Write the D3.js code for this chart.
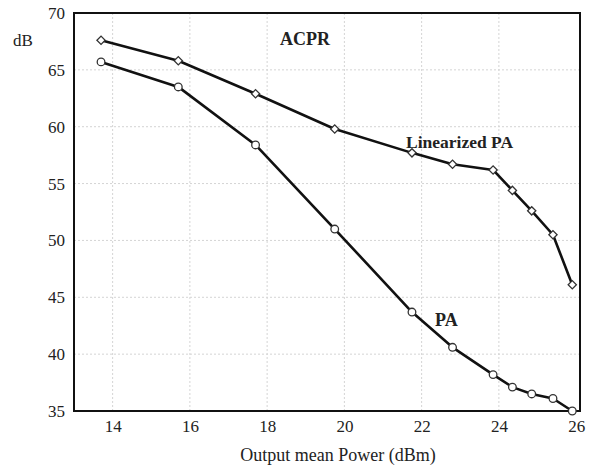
<!DOCTYPE html>
<html>
<head>
<meta charset="utf-8">
<script src="https://cdn.jsdelivr.net/npm/d3@7/dist/d3.min.js"></script>
<style>
  body { margin: 0; background: #fff; }
  svg { display: block; }
  text { font-family: "Liberation Serif", "DejaVu Serif", serif; fill: #222; }
</style>
</head>
<body>
<svg id="chart" width="589" height="465"></svg>
<script>
// Output mean power (dBm) at each measurement
const power = [13.7, 15.7, 17.7, 19.75, 21.75, 22.8, 23.85, 24.35, 24.85, 25.4, 25.9];
// ACPR (dB) with and without linearization
const acprLinearized = [67.6, 65.8, 62.9, 59.8, 57.7, 56.7, 56.2, 54.4, 52.6, 50.5, 46.1];
const acprPA = [65.7, 63.5, 58.4, 51.0, 43.7, 40.6, 38.2, 37.1, 36.5, 36.1, 35.0];
const xTicks = [14, 16, 18, 20, 22, 24, 26];
const yTicks = [35, 40, 45, 50, 55, 60, 65, 70];

const svg = d3.select("#chart");
const m = { left: 74, top: 13, right: 580, bottom: 411 };

const x = d3.scaleLinear().domain([13, 26.1]).range([m.left, m.right]);
const y = d3.scaleLinear().domain([35, 70]).range([m.bottom, m.top]);

// grid
const grid = svg.append("g").attr("stroke", "#d4d4d4").attr("stroke-width", 1)
  .attr("stroke-dasharray", "2,2");
grid.selectAll("line.v").data(xTicks.filter(d => d < 26)).join("line")
  .attr("x1", d => x(d)).attr("x2", d => x(d))
  .attr("y1", m.top).attr("y2", m.bottom);
grid.selectAll("line.h").data(yTicks.filter(d => d > 35 && d < 70)).join("line")
  .attr("x1", m.left).attr("x2", m.right)
  .attr("y1", d => y(d)).attr("y2", d => y(d));

// axes (labels only, frame drawn separately)
const xAxis = svg.append("g").attr("transform", `translate(0,${m.bottom})`)
  .call(d3.axisBottom(x).tickValues(xTicks).tickSize(0).tickPadding(9));
xAxis.select(".domain").remove();
xAxis.selectAll("text").attr("font-size", 17).style("font-family", "Liberation Serif, serif").attr("fill", "#222");

const yAxis = svg.append("g").attr("transform", `translate(${m.left},0)`)
  .call(d3.axisLeft(y).tickValues(yTicks).tickSize(0).tickPadding(9));
yAxis.select(".domain").remove();
yAxis.selectAll("text").attr("font-size", 17).style("font-family", "Liberation Serif, serif").attr("fill", "#222");

// frame
svg.append("rect").attr("x", m.left).attr("y", m.top)
  .attr("width", m.right - m.left).attr("height", m.bottom - m.top)
  .attr("fill", "none").attr("stroke", "#111").attr("stroke-width", 2);

const line = d3.line().x(d => x(d[0])).y(d => y(d[1]));

function drawSeries(values, symbolType, size, rotate) {
  const pts = power.map((p, i) => [p, values[i]]);
  svg.append("path").datum(pts).attr("d", line)
    .attr("fill", "none").attr("stroke", "#111").attr("stroke-width", 2.6)
    .attr("stroke-linejoin", "round");
  svg.append("g").selectAll("path").data(pts).join("path")
    .attr("transform", d => `translate(${x(d[0])},${y(d[1])}) rotate(${rotate})`)
    .attr("d", d3.symbol().type(symbolType).size(size))
    .attr("fill", "#fff").attr("stroke", "#333").attr("stroke-width", 1.3);
}

// square rotated 45° gives an even diamond
drawSeries(acprLinearized, d3.symbolSquare, 34, 45);
drawSeries(acprPA, d3.symbolCircle, 46, 0);

// text labels
svg.append("text").attr("x", 13).attr("y", 46).attr("font-size", 17).text("dB");
svg.append("text").attr("x", 280).attr("y", 45).attr("font-size", 18).attr("font-weight", "bold").text("ACPR");
svg.append("text").attr("x", 406).attr("y", 148).attr("font-size", 17.5).attr("font-weight", "bold").text("Linearized PA");
svg.append("text").attr("x", 435).attr("y", 326).attr("font-size", 18).attr("font-weight", "bold").text("PA");
svg.append("text").attr("x", 338).attr("y", 461).attr("font-size", 18).attr("text-anchor", "middle")
  .text("Output mean Power (dBm)");
</script>
</body>
</html>
